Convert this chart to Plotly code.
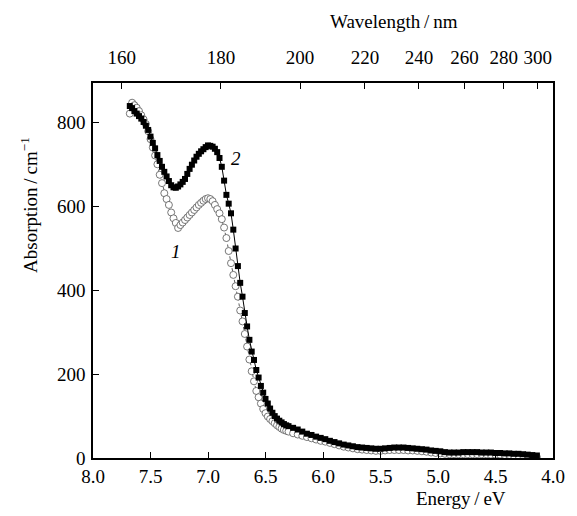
import plotly.graph_objects as go

# Photon energy (eV) shared by both spectra
energy = [
    7.68, 7.66, 7.64, 7.62, 7.60, 7.58, 7.56, 7.54, 7.52, 7.50,
    7.48, 7.46, 7.44, 7.42, 7.40, 7.38, 7.36, 7.34, 7.32, 7.30,
    7.28, 7.26, 7.24, 7.22, 7.20, 7.18, 7.16, 7.14, 7.12, 7.10,
    7.08, 7.06, 7.04, 7.02, 7.00, 6.98, 6.96, 6.94, 6.92, 6.90,
    6.88, 6.86, 6.84, 6.82, 6.80, 6.78, 6.76, 6.74, 6.72, 6.70,
    6.68, 6.66, 6.64, 6.62, 6.60, 6.58, 6.56, 6.54, 6.52, 6.50,
    6.48, 6.46, 6.44, 6.42, 6.40, 6.38, 6.36, 6.34, 6.32, 6.30,
    6.26, 6.22, 6.18, 6.14, 6.10, 6.06, 6.02, 5.98, 5.94, 5.90,
    5.86, 5.82, 5.78, 5.74, 5.70, 5.66, 5.62, 5.58, 5.54, 5.50,
    5.46, 5.42, 5.38, 5.34, 5.30, 5.26, 5.22, 5.18, 5.14, 5.10,
    5.06, 5.02, 4.98, 4.94, 4.90, 4.86, 4.82, 4.78, 4.74, 4.70,
    4.66, 4.62, 4.58, 4.54, 4.50, 4.46, 4.42, 4.38, 4.34, 4.30,
    4.26, 4.22, 4.18, 4.14,
]

# curve 1 (open circles)
absorption_1 = [
    822, 848, 842, 836, 828, 818, 808, 797, 780, 761,
    741, 722, 701, 676, 656, 632, 618, 604, 586, 572,
    561, 549, 556, 562, 568, 574, 580, 586, 592, 598,
    604, 609, 614, 618, 620, 618, 613, 604, 594, 584,
    570, 550, 525, 494, 465, 437, 410, 385, 352, 326,
    296, 266, 235, 207, 183, 160, 145, 130, 117, 107,
    99, 93, 88, 83, 78, 74, 70, 67, 65, 63,
    59, 56, 53, 50, 47, 44, 41, 39, 36, 33,
    30, 27, 25, 23, 21, 20, 19, 18, 17, 17,
    18, 19, 19, 19, 19, 18, 18, 17, 16, 15,
    13, 12, 11, 10, 9, 9, 9, 9, 9, 9,
    9, 9, 9, 8, 8, 8, 7, 7, 6, 6,
    5, 4, 3, 2,
]

# curve 2 (filled squares)
absorption_2 = [
    840, 835, 828, 822, 816, 810, 802, 793, 783, 767,
    752, 739, 723, 709, 695, 683, 672, 661, 651, 646,
    645, 648, 653, 659, 666, 678, 690, 700, 710, 719,
    726, 732, 737, 742, 746, 745, 743, 738, 730, 716,
    695, 662, 628, 607, 584, 545, 500, 458, 418, 385,
    346, 314, 282, 254, 234, 210, 192, 172, 156, 141,
    130, 118, 108, 100, 94, 89, 85, 81, 78, 76,
    72, 68, 63, 58, 55, 51, 48, 45, 41, 38,
    35, 32, 30, 28, 26, 25, 24, 23, 22, 22,
    23, 24, 25, 25, 25, 24, 23, 22, 21, 20,
    18, 17, 16, 14, 13, 13, 13, 14, 14, 14,
    14, 13, 13, 13, 12, 12, 11, 11, 10, 10,
    9, 8, 7, 6,
]

energy_ticks = [8.0, 7.5, 7.0, 6.5, 6.0, 5.5, 5.0, 4.5, 4.0]
absorption_ticks = [0, 200, 400, 600, 800]
wavelength_ticks = [160, 180, 200, 220, 240, 260, 280, 300]

HC = 1239.84  # eV*nm
FONT = "Liberation Serif, Times New Roman, serif"
FS = 19
TS = "\u2009"  # thin space around the slashes

fig = go.Figure()
fig.add_trace(go.Scatter(
    x=energy, y=absorption_1, mode="lines+markers", name="1",
    line=dict(color="#333333", width=0.8, dash="dot"),
    marker=dict(symbol="circle", size=7, color="white",
                line=dict(color="#555555", width=0.8)),
))
fig.add_trace(go.Scatter(
    x=energy, y=absorption_2, mode="lines+markers", name="2",
    line=dict(color="black", width=1),
    marker=dict(symbol="square", size=6, color="black",
                line=dict(width=0)),
))
# invisible helper so the top wavelength axis is drawn
fig.add_trace(go.Scatter(
    x=[HC / w for w in wavelength_ticks], y=[0] * len(wavelength_ticks),
    xaxis="x2", mode="markers", marker=dict(opacity=0),
    hoverinfo="skip", showlegend=False,
))

axis_common = dict(
    ticks="inside", ticklen=6, tickwidth=1.2, tickcolor="black",
    showline=True, linecolor="black", linewidth=1.5,
    showgrid=False, zeroline=False,
    tickfont=dict(family=FONT, size=FS, color="black"),
)

# page body has an 8px margin, so the figure is 8px smaller than the window
fig.update_layout(
    width=569, height=508,
    margin=dict(l=85, r=20, t=75, b=58),
    paper_bgcolor="white", plot_bgcolor="white",
    showlegend=False,
    font=dict(family=FONT, size=FS, color="black"),
    xaxis=dict(
        range=[8.0, 4.0], tickvals=energy_ticks,
        ticktext=[f"{v:.1f}" for v in energy_ticks],
        mirror=False, ticklabelstandoff=0, **axis_common,
    ),
    xaxis2=dict(
        overlaying="x", side="top", range=[8.0, 4.0],
        tickvals=[HC / w for w in wavelength_ticks],
        ticktext=[str(w) for w in wavelength_ticks],
        ticklabelstandoff=10, **axis_common,
    ),
    yaxis=dict(
        range=[0, 895], tickvals=absorption_ticks,
        mirror=True, ticklabelstandoff=2, **axis_common,
    ),
    annotations=[
        dict(text=f"Energy{TS}/{TS}eV", xref="paper", yref="paper",
             x=0.80, y=-0.108, xanchor="center", yanchor="middle",
             showarrow=False, font=dict(family=FONT, size=FS)),
        dict(text=f"Wavelength{TS}/{TS}nm", xref="paper", yref="paper",
             x=0.655, y=1.163, xanchor="center", yanchor="middle",
             showarrow=False, font=dict(family=FONT, size=FS)),
        dict(text=f"Absorption{TS}/{TS}cm<sup>\u22121</sup>", xref="paper",
             yref="paper", x=-0.139, y=0.675, xanchor="center",
             yanchor="middle", textangle=-90, showarrow=False,
             font=dict(family=FONT, size=FS)),
        dict(text="<i>1</i>", x=7.28, y=494, showarrow=False,
             font=dict(family=FONT, size=FS)),
        dict(text="<i>2</i>", x=6.76, y=716, showarrow=False,
             font=dict(family=FONT, size=FS)),
    ],
)

fig.write_html("out.html")
